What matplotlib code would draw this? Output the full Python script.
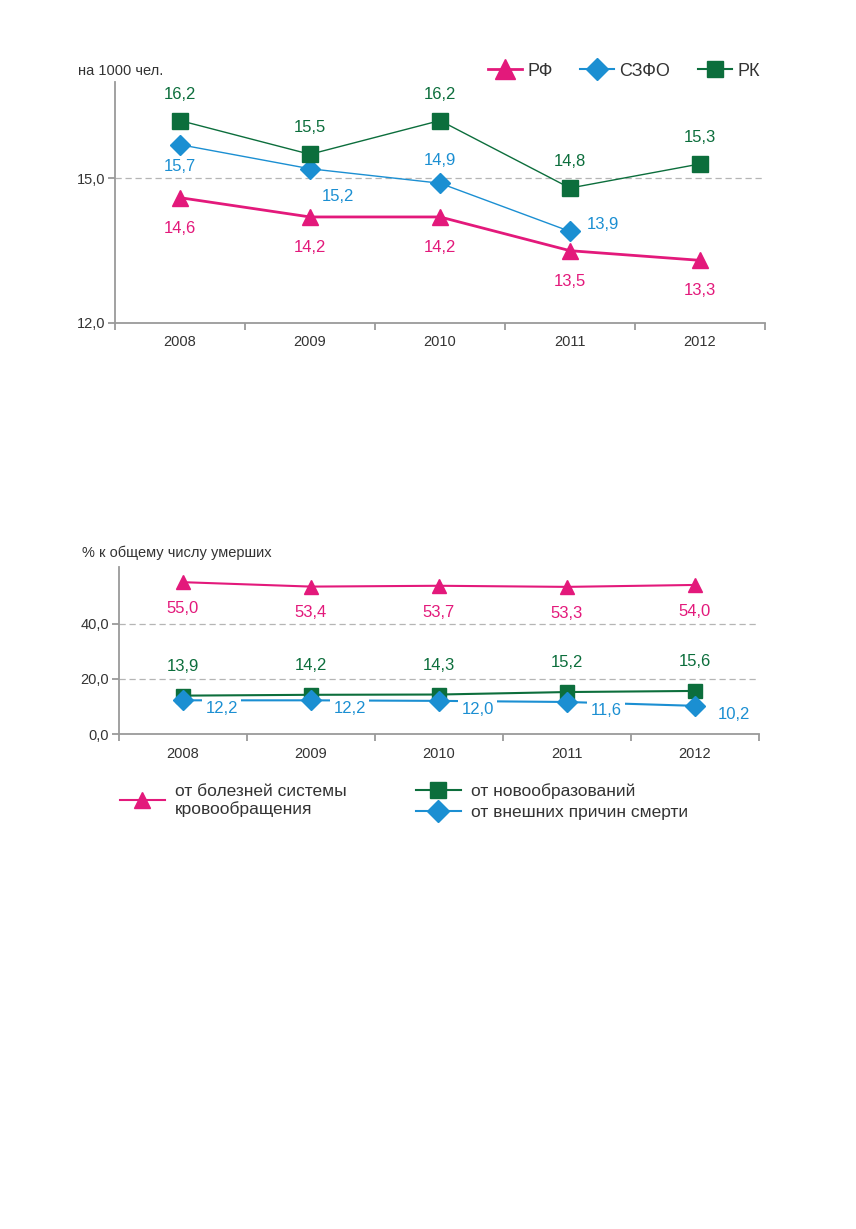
import numpy as np
import matplotlib
matplotlib.use("Agg")
import matplotlib.pyplot as plt
from matplotlib.lines import Line2D

plt.rcParams['font.family'] = ['Liberation Sans', 'DejaVu Sans']

years = ['2008', '2009', '2010', '2011', '2012']

# top chart, per 1000 people
rf = [14.6, 14.2, 14.2, 13.5, 13.3]
szfo = [15.7, 15.2, 14.9, 13.9, None]
rk = [16.2, 15.5, 16.2, 14.8, 15.3]

# bottom chart, % of all deaths
circ = [55.0, 53.4, 53.7, 53.3, 54.0]
neo = [13.9, 14.2, 14.3, 15.2, 15.6]
ext = [12.2, 12.2, 12.0, 11.6, 10.2]

PINK = '#e3197b'
BLUE = '#1b8fd2'
GREEN = '#0c6e3c'
GREY = '#9a9a9a'
TXT = '#333333'

fig = plt.figure(figsize=(8.56, 12.29), dpi=100)


def style_axes(ax, yticks, ylabels):
    for s in ['top', 'right']:
        ax.spines[s].set_visible(False)
    for s in ['left', 'bottom']:
        ax.spines[s].set_color(GREY)
        ax.spines[s].set_linewidth(1.3)
    ax.set_xlim(-0.5, 4.5)
    ax.set_xticks(np.arange(5))
    ax.set_xticklabels(years, fontsize=10.5, color=TXT)
    ax.set_xticks(np.arange(-0.5, 5, 1), minor=True)
    ax.tick_params(axis='x', which='major', length=0, pad=9)
    ax.tick_params(axis='x', which='minor', length=5, width=1.3, color=GREY)
    ax.set_yticks(yticks)
    ax.set_yticklabels(ylabels, fontsize=10.5, color=TXT)
    ax.tick_params(axis='y', length=5, width=1.3, color=GREY, pad=2)


def fmt(v):
    return f'{v:.1f}'.replace('.', ',')


# ---------- top chart
ax1 = fig.add_axes([115/856, 1-323/1229, 650/856, 241/1229])
x = np.arange(5)
ax1.set_ylim(12, 17)
style_axes(ax1, [12, 15], ['12,0', '15,0'])
ax1.axhline(15, color='#b5b5b5', lw=0.9, ls=(0, (5, 3)), zorder=0)

ax1.plot(x, rf, color=PINK, lw=2, marker='^', ms=12, zorder=3)
sx = [i for i, v in enumerate(szfo) if v is not None]
sv = [v for v in szfo if v is not None]
ax1.plot(sx, sv, color=BLUE, lw=1, marker='D', ms=10, zorder=3)
ax1.plot(x, rk, color=GREEN, lw=1, marker='s', ms=11, zorder=3)

fs = 12
for i, v in enumerate(rk):
    ax1.annotate(fmt(v), (i, v), xytext=(0, 19), textcoords='offset points',
                 ha='center', va='center', fontsize=fs, color=GREEN)
szfo_off = [(0, -16), (20, -20), (0, 16), (24, 5)]
for i, v in zip(sx, sv):
    ax1.annotate(fmt(v), (i, v), xytext=szfo_off[i], textcoords='offset points',
                 ha='center', va='center', fontsize=fs, color=BLUE)
for i, v in enumerate(rf):
    ax1.annotate(fmt(v), (i, v), xytext=(0, -22), textcoords='offset points',
                 ha='center', va='center', fontsize=fs, color=PINK)

ax1.text(78/856, 1-71/1229, 'на 1000 чел.', transform=fig.transFigure, fontsize=10.5,
         color=TXT, ha='left', va='center')
top_handles = [Line2D([], [], color=PINK, lw=2, marker='^', ms=14),
               Line2D([], [], color=BLUE, lw=1.5, marker='D', ms=11),
               Line2D([], [], color=GREEN, lw=1.5, marker='s', ms=11)]
ax1.legend(top_handles, ['РФ', 'СЗФО', 'РК'], loc='center right',
           bbox_to_anchor=(776/856, 1-71/1229), bbox_transform=fig.transFigure,
           ncol=3, frameon=False, fontsize=13, handlelength=1.9, columnspacing=1.5,
           handletextpad=0.3, labelcolor=TXT)

# ---------- bottom chart
ax2 = fig.add_axes([119/856, 1-734/1229, 640/856, 167/1229])
ax2.set_ylim(0, 60.5)
style_axes(ax2, [0, 20, 40], ['0,0', '20,0', '40,0'])
for g in [20, 40]:
    ax2.axhline(g, color='#b5b5b5', lw=0.9, ls=(0, (5, 3)), zorder=0)

ax2.plot(x, circ, color=PINK, lw=1.5, marker='^', ms=10, zorder=3)
ax2.plot(x, neo, color=GREEN, lw=1.5, marker='s', ms=10, zorder=3)
ax2.plot(x, ext, color=BLUE, lw=1.5, marker='D', ms=10, zorder=3.5)

for i, v in enumerate(circ):
    ax2.annotate(fmt(v), (i, v), xytext=(0, -19), textcoords='offset points',
                 ha='center', va='center', fontsize=fs, color=PINK)
for i, v in enumerate(neo):
    ax2.annotate(fmt(v), (i, v), xytext=(0, 21), textcoords='offset points',
                 ha='center', va='center', fontsize=fs, color=GREEN)
for i, v in enumerate(ext):
    ax2.annotate(fmt(v), (i, v), xytext=(28, -6), textcoords='offset points',
                 ha='center', va='center', fontsize=fs, color=BLUE, zorder=4,
                 bbox=dict(boxstyle='square,pad=0.2', fc='white', ec='none'))

ax2.text(82/856, 1-553/1229, '% к общему числу умерших', transform=fig.transFigure, fontsize=10.5,
         color=TXT, ha='left', va='center')

h1 = [Line2D([], [], color=PINK, lw=1.5, marker='^', ms=12)]
leg1 = ax2.legend(h1, ['от болезней системы\nкровообращения'], loc='upper left',
                  bbox_to_anchor=(104/856, 1-768/1229), bbox_transform=fig.transFigure,
                  frameon=False, fontsize=12.5, handlelength=2.6, handletextpad=0.6,
                  labelcolor=TXT)
ax2.add_artist(leg1)
h2 = [Line2D([], [], color=GREEN, lw=1.5, marker='s', ms=11),
      Line2D([], [], color=BLUE, lw=1.5, marker='D', ms=11)]
ax2.legend(h2, ['от новообразований', 'от внешних причин смерти'], loc='upper left',
           bbox_to_anchor=(400/856, 1-768/1229), bbox_transform=fig.transFigure,
           frameon=False, fontsize=12.5, handlelength=2.6, handletextpad=0.6, labelspacing=0.3,
           labelcolor=TXT)

fig.savefig('out.png', dpi=100)
